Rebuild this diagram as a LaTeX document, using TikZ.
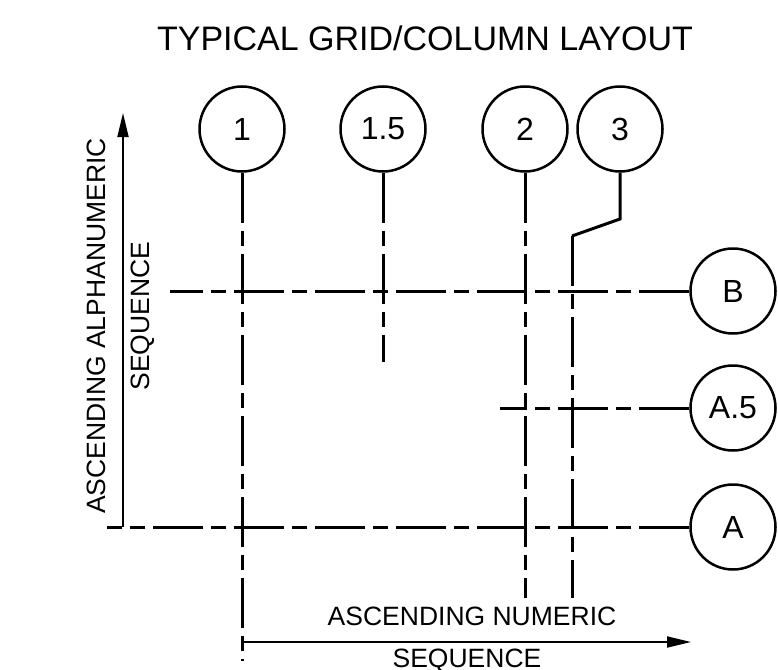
\documentclass[tikz,border=0pt]{standalone}
\usepackage{fontspec}
\setmainfont{Liberation Sans}
\usetikzlibrary{arrows.meta}

\begin{document}
\begin{tikzpicture}[x=1pt,y=-1pt]
   \tikzstyle{bubble}=[draw, circle, line width=2.5pt, minimum size=85pt, inner sep=0pt, font=\fontsize{32}{36}\selectfont]
   \tikzstyle{gridline}=[line width=3pt, dash pattern=on 50pt off 8pt on 15pt off 8pt]
   \tikzstyle{leader}=[line width=3pt]
   \tikzstyle{axis}=[line width=1.8pt, -{Triangle[length=24pt,width=11pt]}]
   \tikzstyle{caption}=[inner sep=0pt, font=\fontsize{26.5}{30}\selectfont]

\useasboundingbox (0,0) rectangle (778,669);

\node[inner sep=0pt, font=\fontsize{34}{38}\selectfont] (title) at (425,38) {TYPICAL GRID/COLUMN LAYOUT};

\node[bubble] (c1) at (242,129) {1};
\node[bubble] (c15) at (383,129) {1.5};
\node[bubble] (c2) at (525,129) {2};
\node[bubble] (c3) at (620,129) {3};
\node[bubble] (rB) at (733,291) {B};
\node[bubble] (rA5) at (733,408) {A.5};
\node[bubble] (rA) at (733,527) {A};

\coordinate (e1) at (242,661);
\coordinate (e15) at (383,362);
\coordinate (e2) at (525,598);
\coordinate (k1) at (620,219);
\coordinate (k2) at (572,236);
\coordinate (e3) at (572,598);
\coordinate (sB) at (170,291);
\coordinate (sA5) at (500,408);
\coordinate (sA) at (107,527);
\coordinate (ybot) at (123,527);
\coordinate (ytop) at (123,113);
\coordinate (xleft) at (242,642);
\coordinate (xright) at (691,642);

\draw[gridline] (c1) -- (e1);
\draw[gridline] (c15) -- (e15);
\draw[gridline] (c2) -- (e2);
\draw[leader] (c3) -- (k1) -- (k2);
\draw[gridline] (k2) -- (e3);
\draw[gridline] (rB) -- (sB);
\draw[gridline] (rA5) -- (sA5);
\draw[gridline] (rA) -- (sA);

\draw[axis] (ybot) -- (ytop);
\draw[axis] (xleft) -- (xright);

\node[caption, rotate=90] (ylab1) at (96,326) {ASCENDING ALPHANUMERIC};
\node[caption, rotate=90] (ylab2) at (143,316) {SEQUENCE};
\node[caption] (xlab1) at (472,616) {ASCENDING NUMERIC};
\node[caption] (xlab2) at (467,661) {SEQUENCE};

\end{tikzpicture}
\end{document}
